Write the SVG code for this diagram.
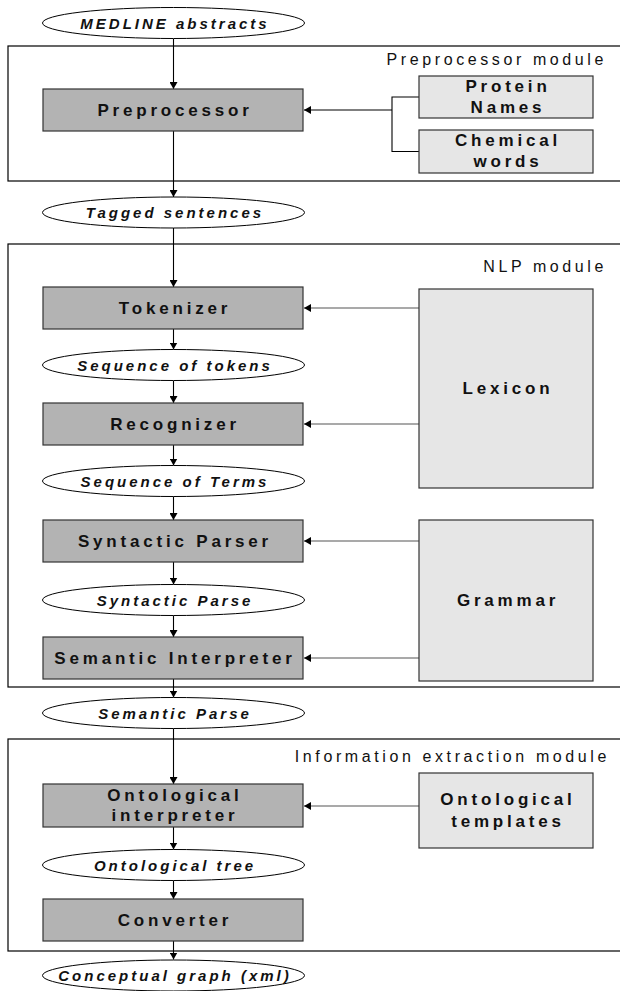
<svg xmlns="http://www.w3.org/2000/svg" width="620" height="991" viewBox="0 0 620 991">
<style>
.mod{fill:#fff;stroke:#000;stroke-width:1.2}
.proc{fill:#b3b3b3;stroke:#333;stroke-width:1.2}
.res{fill:#e6e6e6;stroke:#333;stroke-width:1.2}
.ell{fill:#fff;stroke:#000;stroke-width:1}
.bt{font-family:"Liberation Sans",Arial,sans-serif;font-weight:bold;font-size:17px;letter-spacing:3.8px;fill:#111;text-anchor:middle}
.et{font-family:"Liberation Sans",Arial,sans-serif;font-weight:bold;font-style:italic;font-size:15px;letter-spacing:3px;fill:#111;text-anchor:middle}
.mt{font-family:"Liberation Sans",Arial,sans-serif;font-size:16px;letter-spacing:3.6px;fill:#111;text-anchor:end}
.c{fill:none;stroke:#000;stroke-width:1.1}
.cg{fill:none;stroke:#555;stroke-width:1.1}
</style>
<defs>
<marker id="ah" viewBox="0 0 7 8" markerWidth="7" markerHeight="8" refX="7" refY="4" orient="auto" markerUnits="userSpaceOnUse">
<path d="M0,0 L7,4 L0,8 z" fill="#000"/>
</marker>
</defs>

<g id="preprocessor-module">
<rect class="mod" x="8" y="46" width="620" height="135"/>
<text class="mt" x="607" y="65">Preprocessor module</text>
</g>
<g id="nlp-module">
<rect class="mod" x="8" y="244" width="620" height="443"/>
<text class="mt" x="607" y="272">NLP module</text>
</g>
<g id="ie-module">
<rect class="mod" x="8" y="739" width="620" height="212"/>
<text class="mt" x="610" y="762">Information extraction module</text>
</g>

<g id="connectors">
<line class="c" x1="173.5" y1="39" x2="173.5" y2="89" marker-end="url(#ah)"/>
<line class="c" x1="173.5" y1="131" x2="173.5" y2="197" marker-end="url(#ah)"/>
<line class="c" x1="173.5" y1="228" x2="173.5" y2="287" marker-end="url(#ah)"/>
<line class="c" x1="173.5" y1="329" x2="173.5" y2="349.5" marker-end="url(#ah)"/>
<line class="c" x1="173.5" y1="381" x2="173.5" y2="403" marker-end="url(#ah)"/>
<line class="c" x1="173.5" y1="445" x2="173.5" y2="465.5" marker-end="url(#ah)"/>
<line class="c" x1="173.5" y1="496.5" x2="173.5" y2="520" marker-end="url(#ah)"/>
<line class="c" x1="173.5" y1="562" x2="173.5" y2="584.5" marker-end="url(#ah)"/>
<line class="c" x1="173.5" y1="615.5" x2="173.5" y2="637" marker-end="url(#ah)"/>
<line class="c" x1="173.5" y1="679" x2="173.5" y2="697.5" marker-end="url(#ah)"/>
<line class="c" x1="173.5" y1="728.5" x2="173.5" y2="784" marker-end="url(#ah)"/>
<line class="c" x1="173.5" y1="827" x2="173.5" y2="849.5" marker-end="url(#ah)"/>
<line class="c" x1="173.5" y1="880.5" x2="173.5" y2="899" marker-end="url(#ah)"/>
<line class="c" x1="173.5" y1="941" x2="173.5" y2="959.5" marker-end="url(#ah)"/>
<polyline class="c" points="419,97 392,97 392,151.5 419,151.5"/>
<line class="c" x1="392" y1="110" x2="304" y2="110" marker-end="url(#ah)"/>
<line class="cg" x1="419" y1="308" x2="304" y2="308" marker-end="url(#ah)"/>
<line class="cg" x1="419" y1="424" x2="304" y2="424" marker-end="url(#ah)"/>
<line class="cg" x1="419" y1="541" x2="304" y2="541" marker-end="url(#ah)"/>
<line class="cg" x1="419" y1="658" x2="304" y2="658" marker-end="url(#ah)"/>
<line class="cg" x1="419" y1="806" x2="304" y2="806" marker-end="url(#ah)"/>
</g>

<g id="medline"><ellipse class="ell" cx="173.5" cy="23" rx="131" ry="15.5"/><text class="et" x="175" y="28.5">MEDLINE abstracts</text></g>
<g id="preprocessor"><rect class="proc" x="43" y="89" width="260" height="42"/><text class="bt" x="175" y="116">Preprocessor</text></g>
<g id="protein-names"><rect class="res" x="419" y="76" width="174" height="42"/><text class="bt" x="508" y="92">Protein</text><text class="bt" x="508" y="113">Names</text></g>
<g id="chemical-words"><rect class="res" x="419" y="130" width="174" height="43"/><text class="bt" x="508" y="146">Chemical</text><text class="bt" x="508" y="167">words</text></g>
<g id="tagged-sentences"><ellipse class="ell" cx="173.5" cy="212.5" rx="131" ry="15.5"/><text class="et" x="175" y="218">Tagged sentences</text></g>
<g id="tokenizer"><rect class="proc" x="43" y="287" width="260" height="42"/><text class="bt" x="175" y="314">Tokenizer</text></g>
<g id="sequence-of-tokens"><ellipse class="ell" cx="173.5" cy="365" rx="131" ry="15.5"/><text class="et" x="175" y="370.5">Sequence of tokens</text></g>
<g id="recognizer"><rect class="proc" x="43" y="403" width="260" height="42"/><text class="bt" x="175" y="430">Recognizer</text></g>
<g id="sequence-of-terms"><ellipse class="ell" cx="173.5" cy="481" rx="131" ry="15.5"/><text class="et" x="175" y="486.5">Sequence of Terms</text></g>
<g id="lexicon"><rect class="res" x="419" y="289" width="174" height="199"/><text class="bt" x="508" y="394">Lexicon</text></g>
<g id="syntactic-parser"><rect class="proc" x="43" y="520" width="260" height="42"/><text class="bt" x="175" y="547">Syntactic Parser</text></g>
<g id="syntactic-parse"><ellipse class="ell" cx="173.5" cy="600" rx="131" ry="15.5"/><text class="et" x="175" y="605.5">Syntactic Parse</text></g>
<g id="semantic-interpreter"><rect class="proc" x="43" y="637" width="260" height="42"/><text class="bt" x="175" y="664">Semantic Interpreter</text></g>
<g id="grammar"><rect class="res" x="419" y="520" width="174" height="161"/><text class="bt" x="508" y="606">Grammar</text></g>
<g id="semantic-parse"><ellipse class="ell" cx="173.5" cy="713" rx="131" ry="15.5"/><text class="et" x="175" y="718.5">Semantic Parse</text></g>
<g id="ontological-interpreter"><rect class="proc" x="43" y="784" width="260" height="43"/><text class="bt" x="175" y="801">Ontological</text><text class="bt" x="175" y="821">interpreter</text></g>
<g id="ontological-templates"><rect class="res" x="419" y="773" width="174" height="75"/><text class="bt" x="508" y="805">Ontological</text><text class="bt" x="508" y="827">templates</text></g>
<g id="ontological-tree"><ellipse class="ell" cx="173.5" cy="865" rx="131" ry="15.5"/><text class="et" x="175" y="870.5">Ontological tree</text></g>
<g id="converter"><rect class="proc" x="43" y="899" width="260" height="42"/><text class="bt" x="175" y="926">Converter</text></g>
<g id="conceptual-graph"><ellipse class="ell" cx="173.5" cy="975.5" rx="131" ry="15.5"/><text class="et" x="175" y="981">Conceptual graph (xml)</text></g>
</svg>
